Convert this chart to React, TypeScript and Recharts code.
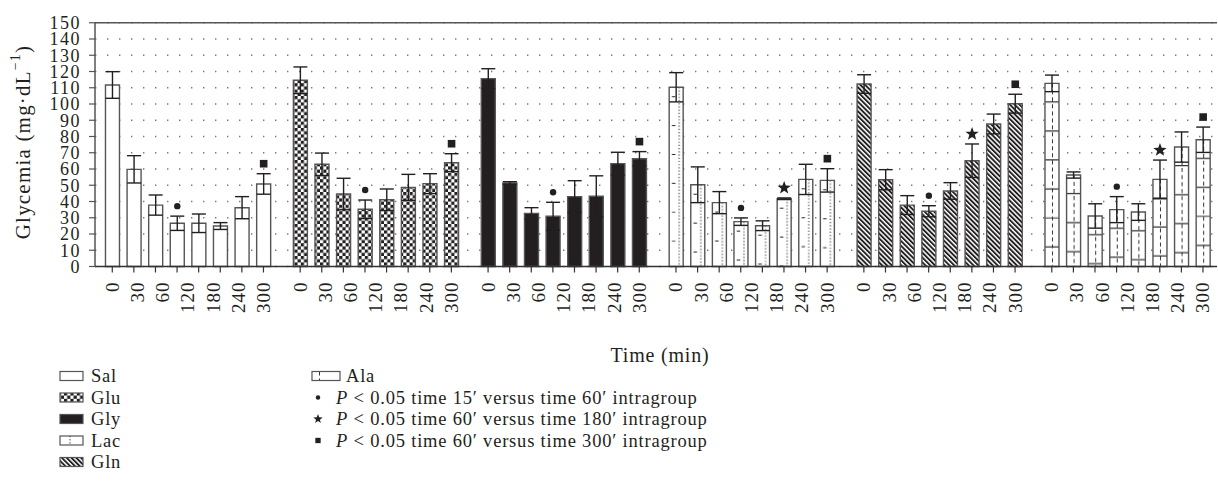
import React from "react";
import {
  Bar,
  CartesianGrid,
  Cell,
  ComposedChart,
  ErrorBar,
  LabelList,
  Legend,
  ReferenceLine,
  XAxis,
  YAxis,
} from "recharts";

// groups and time points (the 15 min bar has no label in the original)
const groups = ["Sal", "Glu", "Gly", "Lac", "Gln", "Ala"];
const timeLabels = ["0", "30", "60", "120", "180", "240", "300"];
const yTicks = [0, 10, 20, 30, 40, 50, 60, 70, 80, 90, 100, 110, 120, 130, 140, 150];

// mean ± error (0, 15, 30, 60, 120, 180, 240, 300 min)
const salMean = [111.7, 59.8, 37.8, 26.6, 26.6, 24.9, 36.2, 50.8];
const salErr = [8.2, 8.4, 6.2, 4.4, 5.7, 2.1, 6.8, 6.3];
const gluMean = [114.6, 62.9, 44.6, 35.2, 41.1, 48.7, 51.0, 63.9];
const gluErr = [8.2, 6.9, 9.7, 5.7, 6.6, 8.0, 6.1, 5.5];
const glyMean = [115.6, 51.4, 32.7, 30.9, 43.0, 43.3, 63.3, 66.3];
const glyErr = [6.1, 0.8, 3.5, 8.6, 9.8, 12.5, 7.0, 4.4];
const lacMean = [110.3, 50.3, 39.3, 27.6, 25.1, 41.7, 53.6, 53.0];
const lacErr = [9.0, 11.0, 6.8, 2.3, 3.0, 0.5, 9.3, 7.2];
const glnMean = [112.3, 53.4, 37.8, 34.0, 46.5, 65.1, 87.7, 100.2];
const glnErr = [5.7, 6.2, 5.8, 3.4, 5.1, 10.3, 6.1, 5.8];
const alaMean = [112.7, 56.3, 31.1, 35.0, 33.5, 53.6, 73.5, 78.0];
const alaErr = [5.1, 1.9, 7.5, 8.0, 5.1, 11.9, 9.3, 7.8];

// significance marks per bar
const salMarks = ["", "", "", "dot", "", "", "", "square"];
const gluMarks = ["", "", "", "dot", "", "", "", "square"];
const glyMarks = ["", "", "", "dot", "", "", "", "square"];
const lacMarks = ["", "", "", "dot", "", "star", "", "square"];
const glnMarks = ["", "", "", "dot", "", "star", "", "square"];
const alaMarks = ["", "", "", "dot", "", "star", "", "square"];

const legendNotes = [
  { mark: "dot", a: "15", b: "60" },
  { mark: "star", a: "60", b: "180" },
  { mark: "square", a: "60", b: "300" },
];

const FONT = "'Liberation Serif', 'Times New Roman', serif";
const INK = "#231f20";
const EDGE = "#555555";
const GROUP_STRIDE = 8.7;
const X_DOMAIN: [number, number] = [-0.8, 5 * GROUP_STRIDE + 7 + 0.65];

const means = [salMean, gluMean, glyMean, lacMean, glnMean, alaMean];
const errs = [salErr, gluErr, glyErr, lacErr, glnErr, alaErr];
const marks = [salMarks, gluMarks, glyMarks, lacMarks, glnMarks, alaMarks];
const fills = ["#ffffff", "url(#pGlu)", INK, "url(#pLac)", "url(#pGln)", "url(#pAla)"];

const rows = groups.flatMap((_, gi) =>
  means[gi].map((m, j) => ({
    pos: gi * GROUP_STRIDE + j,
    mean: m,
    err: errs[gi][j],
    mark: marks[gi][j],
    gi,
  }))
);
const barTicks = rows.map((r) => r.pos);
const labelTicks = groups.flatMap((_, gi) =>
  timeLabels.map((_, k) => gi * GROUP_STRIDE + (k * 7) / 6)
);

function starPoints(cx: number, cy: number, R: number, r: number) {
  const pts: string[] = [];
  for (let i = 0; i < 10; i++) {
    const rad = i % 2 === 0 ? R : r;
    const a = -Math.PI / 2 + (i * Math.PI) / 5;
    pts.push(`${cx + rad * Math.cos(a)},${cy + rad * Math.sin(a)}`);
  }
  return pts.join(" ");
}

function Marker({ kind, cx, cy, s = 1 }: { kind: string; cx: number; cy: number; s?: number }) {
  if (kind === "dot") return <circle cx={cx} cy={cy} r={3.2 * s} fill={INK} />;
  if (kind === "square")
    return <rect x={cx - 3.8 * s} y={cy - 3.8 * s} width={7.6 * s} height={7.6 * s} fill={INK} />;
  if (kind === "star") return <polygon points={starPoints(cx, cy, 7 * s, 2.9 * s)} fill={INK} />;
  return null;
}

function MarkLabel(props: any) {
  const { x, y, width, height, index } = props;
  const row = rows[index];
  if (!row || !row.mark) return null;
  const pxPerUnit = Number(height) / row.mean;
  const cx = Number(x) + Number(width) / 2;
  const cy = Number(y) - row.err * pxPerUnit - 10;
  return <Marker kind={row.mark} cx={cx} cy={cy} />;
}

function TimeTick(props: any) {
  const { x, y, index } = props;
  return (
    <text
      x={x}
      y={y}
      transform={`rotate(-90 ${x} ${y})`}
      textAnchor="end"
      dominantBaseline="central"
      fontFamily={FONT}
      fontSize={19}
      letterSpacing={1}
      fill={INK}
    >
      {timeLabels[index % timeLabels.length]}
    </text>
  );
}

function YLabel() {
  const x = 23;
  const y = 142;
  return (
    <text
      x={x}
      y={y}
      transform={`rotate(-90 ${x} ${y})`}
      textAnchor="middle"
      dominantBaseline="central"
      fontFamily={FONT}
      fontSize={21}
      letterSpacing={1.2}
      fill={INK}
    >
      Glycemia (mg·dL
      <tspan dy={-8} fontSize={14}>
        −1
      </tspan>
      <tspan dy={8}>)</tspan>
    </text>
  );
}

function XLabel(props: any) {
  const vb = props.viewBox || {};
  return (
    <text
      x={660}
      y={(vb.y ?? 282) + 80}
      textAnchor="middle"
      fontFamily={FONT}
      fontSize={20}
      letterSpacing={0.8}
      fill={INK}
    >
      Time (min)
    </text>
  );
}

function LegendBox() {
  const top = 354;
  const rowY = [376, 397.5, 419, 440.5, 462].map((v) => v - top);
  const text = { fontFamily: FONT, fontSize: 18.5, fill: INK, letterSpacing: 0.8 };
  return (
    <svg width={900} height={130} style={{ display: "block" }}>
      {groups.slice(0, 5).map((g, i) => (
        <g key={g}>
          <rect x={60} y={rowY[i] - 4.5} width={23} height={9} fill={fills[i]} stroke={EDGE} strokeWidth={1.2} />
          <text x={91} y={rowY[i] + 6} {...text}>
            {g}
          </text>
        </g>
      ))}
      <rect x={312} y={rowY[0] - 4.5} width={28} height={9} fill={fills[5]} stroke={EDGE} strokeWidth={1.2} />
      <text x={346} y={rowY[0] + 6} {...text}>
        {groups[5]}
      </text>
      {legendNotes.map((n, i) => (
        <g key={n.mark}>
          <Marker kind={n.mark} cx={318} cy={rowY[i + 1]} s={0.7} />
          <text x={336} y={rowY[i + 1] + 6} {...text}>
            <tspan fontStyle="italic">P</tspan> {"<"} 0.05 time {n.a}′ versus time {n.b}′ intragroup
          </text>
        </g>
      ))}
    </svg>
  );
}

export default function App() {
  return (
    <div style={{ position: "absolute", left: 0, top: 0, background: "#fff" }}>
      <ComposedChart
        width={1218}
        height={484}
        data={rows}
        margin={{ top: 22.75, right: 1, left: 0, bottom: 162.5 }}
      >
        <defs>
          <pattern id="pGlu" width="6.4" height="6.4" patternUnits="userSpaceOnUse">
            <rect width="6.4" height="6.4" fill="#fff" />
            <rect width="3.2" height="3.2" fill={INK} />
            <rect x="3.2" y="3.2" width="3.2" height="3.2" fill={INK} />
          </pattern>
          <pattern id="pGln" width="3.4" height="3.4" patternUnits="userSpaceOnUse" patternTransform="rotate(-45)">
            <rect width="3.4" height="3.4" fill="#fff" />
            <rect width="1.9" height="3.4" fill={INK} />
          </pattern>
          <pattern id="pLac" patternUnits="objectBoundingBox" width="1" height="1">
            <rect width="40" height="300" fill="#fff" />
            <line x1="10" y1="0" x2="10" y2="300" stroke={INK} strokeWidth="1" strokeDasharray="1.2 2" />
            <line x1="4.5" y1="9" x2="4.5" y2="300" stroke={INK} strokeWidth="3.5" strokeDasharray="0.9 28" />
          </pattern>
          <pattern id="pAla" patternUnits="objectBoundingBox" width="1" height="1">
            <rect width="40" height="300" fill="#fff" />
            <line x1="8" y1="18" x2="8" y2="300" stroke="#333" strokeWidth="18" strokeDasharray="1.2 27.8" />
            <line x1="7.5" y1="0" x2="7.5" y2="300" stroke="#333" strokeWidth="1" strokeDasharray="4 3" />
          </pattern>
        </defs>
        <CartesianGrid vertical={false} stroke="#7a7a7a" strokeWidth={1.4} strokeDasharray="1.4 10.6" />
        <XAxis
          dataKey="pos"
          type="number"
          domain={X_DOMAIN}
          allowDataOverflow
          ticks={barTicks}
          interval={0}
          height={15}
          tickSize={6}
          axisLine={{ stroke: "#333", strokeWidth: 1.5 }}
          tickLine={{ stroke: "#333", strokeWidth: 1.2 }}
          tick={() => null}
        />
        <XAxis
          xAxisId="lbl"
          dataKey="pos"
          type="number"
          domain={X_DOMAIN}
          allowDataOverflow
          ticks={labelTicks}
          interval={0}
          height={40}
          tickSize={0}
          tickMargin={0}
          axisLine={false}
          tickLine={false}
          tick={<TimeTick />}
          label={{ content: <XLabel /> }}
        />
        <YAxis
          domain={[0, 150]}
          ticks={yTicks}
          interval={0}
          width={95}
          tickSize={6}
          tickMargin={8}
          axisLine={{ stroke: EDGE, strokeWidth: 1.5 }}
          tickLine={{ stroke: EDGE, strokeWidth: 1.2 }}
          tick={{ fontSize: 18, fill: INK, fontFamily: FONT, letterSpacing: 1.5 }}
          label={{ content: <YLabel /> }}
        />
        <ReferenceLine y={150} stroke={EDGE} strokeWidth={1.5} />
        <Bar
          dataKey="mean"
          barSize={14}
          stroke={EDGE}
          strokeWidth={1.4}
          isAnimationActive={false}
        >
          {rows.map((r, i) => (
            <Cell key={i} fill={fills[r.gi]} />
          ))}
          <ErrorBar dataKey="err" direction="y" width={7} stroke={INK} strokeWidth={1.4} />
          <LabelList dataKey="mark" content={<MarkLabel />} />
        </Bar>
        <Legend
          layout="vertical"
          align="center"
          verticalAlign="middle"
          content={<LegendBox />}
          wrapperStyle={{ left: 0, top: 354, width: 900, height: 130 }}
        />
      </ComposedChart>
    </div>
  );
}
